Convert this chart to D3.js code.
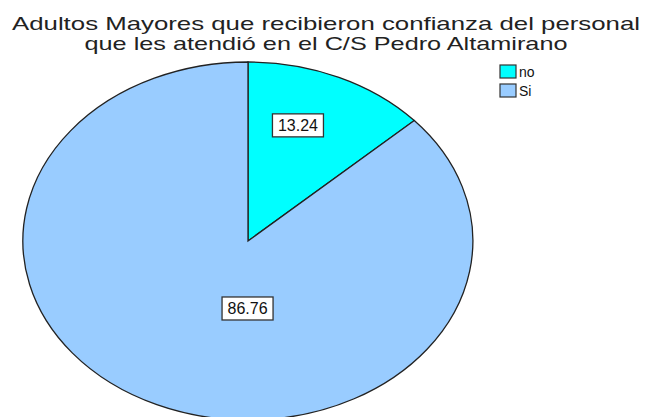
<!DOCTYPE html>
<html><head><meta charset="utf-8">
<script src="https://cdn.jsdelivr.net/npm/d3@7"></script>
<style>html,body{margin:0;padding:0;background:#fff;}svg{display:block;}</style>
</head><body>
<svg id="c" width="648" height="417"></svg>
<script>
const categories = ["no", "Si"];
const values = [13.24, 86.76];
const labels = ["13.24", "86.76"];
const colors = ["#00FFFF", "#99CCFF"];
const titleLines = ["Adultos Mayores que recibieron confianza del personal", "que les atendió en el C/S Pedro Altamirano"];

const svg = d3.select("#c");
const cx = 248, cy = 241, rx = 225, ry = 179;
const font = "'Liberation Sans', Arial, sans-serif";

// title
svg.append("g").selectAll("text").data(titleLines).join("text")
  .attr("x", 326).attr("y", (d, i) => 30 + i * 19.5)
  .attr("text-anchor", "middle")
  .attr("font-family", font).attr("font-size", 19).attr("fill", "#222")
  .attr("textLength", (d, i) => i === 0 ? 628 : 483)
  .attr("lengthAdjust", "spacingAndGlyphs")
  .text(d => d);

const pie = d3.pie().sort(null).value(d => d)(values);
const arc = d3.arc().innerRadius(0).outerRadius(1);

const g = svg.append("g").attr("transform", `translate(${cx},${cy}) scale(${rx},${ry})`);
g.selectAll("path").data(pie).join("path")
  .attr("d", arc)
  .attr("fill", (d, i) => colors[i])
  .attr("stroke", "#222")
  .attr("stroke-width", 1.3)
  .attr("vector-effect", "non-scaling-stroke");

// labels (offsets relative to the ellipse radii)
const labelPos = [[0.222, -0.646], [-0.002, 0.377]];
const lg = svg.append("g");
pie.forEach((d, i) => {
  const x = cx + labelPos[i][0] * rx, y = cy + labelPos[i][1] * ry;
  lg.append("rect").attr("x", x - 25.5).attr("y", y - 11.5).attr("width", 51).attr("height", 23)
    .attr("fill", "#fff").attr("stroke", "#333").attr("stroke-width", 1.3);
  lg.append("text").attr("x", x).attr("y", y + 6)
    .attr("text-anchor", "middle").attr("font-family", font).attr("font-size", 16)
    .attr("fill", "#111").text(labels[i]);
});

// legend
const leg = svg.append("g").attr("transform", "translate(500,65)");
const li = leg.selectAll("g").data(categories).join("g").attr("transform", (d, i) => `translate(0,${i * 19})`);
li.append("rect").attr("width", 16).attr("height", 13)
  .attr("fill", (d, i) => colors[i]).attr("stroke", "#333").attr("stroke-width", 1.2);
li.append("text").attr("x", 19).attr("y", 12).attr("font-family", font).attr("font-size", 14)
  .attr("fill", "#111").text(d => d);
</script>
</body></html>
